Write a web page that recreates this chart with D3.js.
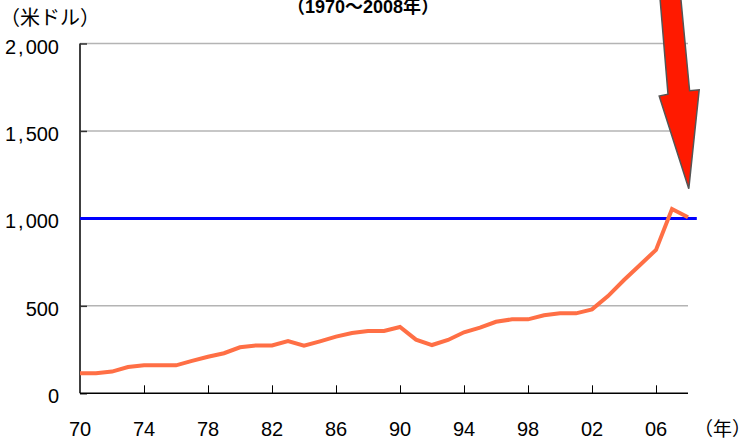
<!DOCTYPE html>
<html>
<head>
<meta charset="utf-8">
<script src="https://cdn.jsdelivr.net/npm/d3@7"></script>
<style>
  html, body { margin: 0; padding: 0; background: #fff; }
  svg { display: block; }
  text { font-family: "Liberation Sans", Arial, "Noto Sans CJK JP", sans-serif; fill: #000; }
</style>
</head>
<body>
<svg id="chart" width="752" height="441"></svg>
<script>
// Annual values (US dollars), 1970–2008
const years = d3.range(1970, 2009);
const values = [
  114, 114, 124, 150, 160, 160, 160, 185, 209, 229,
  263, 274, 274, 299, 272, 297, 324, 345, 356, 356,
  379, 307, 276, 305, 349, 375, 409, 423, 423, 446,
  457, 457, 480, 556, 648, 734, 820, 1054, 1006
];
const yTicks = [0, 500, 1000, 1500, 2000];
const xTicks = [1970, 1974, 1978, 1982, 1986, 1990, 1994, 1998, 2002, 2006];
const xTickLabels = ["70", "74", "78", "82", "86", "90", "94", "98", "02", "06"];
const refLevel = 1000;
const unitLabel = "（米ドル）";
const yearLabel = "（年）";
const titleText = "（1970〜2008年）";

const svg = d3.select("#chart");
const plotLeft = 80, plotRight = 688, plotTop = 43.5, plotBottom = 393.3;

const x = d3.scaleLinear().domain([1970, 2008]).range([plotLeft, plotRight]);
const y = d3.scaleLinear().domain([0, 2000]).range([plotBottom, plotTop]);

// horizontal gridlines
svg.append("g")
  .selectAll("line")
  .data(yTicks.filter(d => d > 0))
  .join("line")
  .attr("x1", plotLeft).attr("x2", plotRight)
  .attr("y1", d => y(d)).attr("y2", d => y(d))
  .attr("stroke", "#b4b4b4").attr("stroke-width", 1.5);

// y axis with inward ticks
const yAxis = svg.append("g")
  .attr("transform", `translate(${plotLeft},0)`)
  .call(d3.axisRight(y).tickValues(yTicks).tickSize(7).tickFormat(""));
yAxis.select(".domain").attr("stroke", "#000").attr("stroke-width", 1.5).attr("d", `M0,${plotBottom}V${plotTop}`);
yAxis.selectAll(".tick line").attr("stroke", "#333").attr("stroke-width", 1.5);

// y tick labels; the thousands separator gets a bit of room on both sides
svg.append("g")
  .selectAll("text")
  .data(yTicks)
  .join("text")
  .attr("x", 59)
  .attr("y", d => y(d) + 10)
  .attr("text-anchor", "end")
  .attr("font-size", 20)
  .each(function (d) {
    const parts = d3.format(",")(d).split(",");
    const t = d3.select(this);
    if (parts.length === 1) { t.text(parts[0]); return; }
    t.append("tspan").text(parts[0]);
    t.append("tspan").attr("dx", 2).text(",");
    t.append("tspan").attr("dx", 2).text(parts[1]);
  });

// x axis with upward ticks
const xAxis = svg.append("g")
  .attr("transform", `translate(0,${plotBottom})`)
  .call(d3.axisTop(x).tickValues(xTicks.filter(d => d > 1970)).tickSize(8).tickFormat(""));
xAxis.select(".domain").attr("stroke", "#000").attr("stroke-width", 1.5).attr("d", `M${plotLeft},0H${plotRight}`);
xAxis.selectAll(".tick line").attr("stroke", "#000").attr("stroke-width", 1);

svg.append("g")
  .selectAll("text")
  .data(xTicks)
  .join("text")
  .attr("x", d => x(d))
  .attr("y", 436)
  .attr("text-anchor", "middle")
  .attr("font-size", 20)
  .text((d, i) => xTickLabels[i]);

// reference level
svg.append("line")
  .attr("x1", plotLeft).attr("x2", x(2008.55))
  .attr("y1", y(refLevel)).attr("y2", y(refLevel))
  .attr("stroke", "#0000ff").attr("stroke-width", 3);

// data line
const line = d3.line().x((d, i) => x(years[i])).y(d => y(d));
svg.append("path")
  .datum(values)
  .attr("d", line)
  .attr("fill", "none")
  .attr("stroke", "#ff6f45")
  .attr("stroke-width", 4)
  .attr("stroke-linejoin", "miter");

// downward arrow pointing at the latest value
const arrowPts = [
  [2006.25, 2260], [2007.55, 2260], [2008.1, 1730], [2008.7, 1735],
  [2008.05, 1170], [2006.2, 1700], [2006.75, 1710]
].map(([a, b]) => [x(a), y(b)]);
svg.append("polygon")
  .attr("points", arrowPts.map(p => p.join(",")).join(" "))
  .attr("fill", "#ff1a00")
  .attr("stroke", "#555")
  .attr("stroke-width", 1.5)
  .attr("stroke-linejoin", "miter");

// labels
svg.append("text").attr("x", 0).attr("y", 25).attr("font-size", 20)
  .attr("font-family", "'Noto Sans CJK JP', sans-serif").text(unitLabel);
svg.append("text").attr("x", 751).attr("y", 436).attr("font-size", 19)
  .attr("text-anchor", "end")
  .attr("font-family", "'Noto Sans CJK JP', sans-serif").text(yearLabel);
svg.append("text").attr("x", 287).attr("y", 13).attr("font-size", 18).attr("font-weight", "bold")
  .attr("font-family", "'Noto Sans CJK JP', sans-serif").text(titleText);
</script>
</body>
</html>
